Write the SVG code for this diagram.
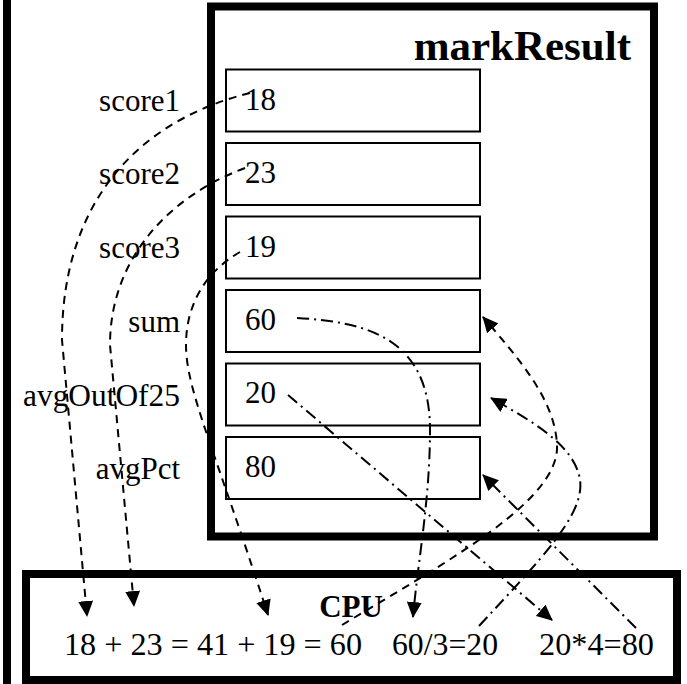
<svg xmlns="http://www.w3.org/2000/svg" width="687" height="684" viewBox="0 0 687 684">
<style>
.frame{fill:none;stroke:#000;stroke-width:8}
.box{fill:#fff;stroke:#000;stroke-width:2}
.t{font-family:"Liberation Serif","Times New Roman",serif;font-size:31px;fill:#000}
.lbl{text-anchor:end}
.b{font-weight:bold}
.dash{fill:none;stroke:#000;stroke-width:2;stroke-dasharray:8 6}
.dd{fill:none;stroke:#000;stroke-width:2;stroke-dasharray:12 5 2 5}
</style>
<defs>
<marker id="ah" viewBox="0 0 16 15" refX="15" refY="7.5" markerWidth="16" markerHeight="15" markerUnits="userSpaceOnUse" orient="auto">
<path d="M0,0 L16,7.5 L0,15 z" fill="#000"/>
</marker>
</defs>
<rect width="687" height="684" fill="#fff"/>
<line x1="7" y1="0" x2="7" y2="684" stroke="#000" stroke-width="8"/>
<g id="markResult">
<rect class="frame" x="211" y="6.5" width="443" height="530"/>
<text class="t b" x="631" y="60" text-anchor="end" style="font-size:43px">markResult</text>
</g>
<g id="score1">
<rect class="box" x="226" y="69.5" width="254" height="62"/>
<text class="t" x="245" y="110">18</text>
<text class="t lbl" x="180" y="111">score1</text>
</g>
<g id="score2">
<rect class="box" x="226" y="143" width="254" height="62"/>
<text class="t" x="245" y="183">23</text>
<text class="t lbl" x="180" y="184">score2</text>
</g>
<g id="score3">
<rect class="box" x="226" y="216.5" width="254" height="62"/>
<text class="t" x="245" y="257">19</text>
<text class="t lbl" x="180" y="258">score3</text>
</g>
<g id="sum">
<rect class="box" x="226" y="290" width="254" height="62"/>
<text class="t" x="245" y="330">60</text>
<text class="t lbl" x="180" y="332">sum</text>
</g>
<g id="avgOutOf25">
<rect class="box" x="226" y="363.5" width="254" height="62"/>
<text class="t" x="245" y="403">20</text>
<text class="t lbl" x="180" y="406" textLength="157" lengthAdjust="spacingAndGlyphs">avgOutOf25</text>
</g>
<g id="avgPct">
<rect class="box" x="226" y="437" width="254" height="62"/>
<text class="t" x="245" y="477">80</text>
<text class="t lbl" x="180" y="479">avgPct</text>
</g>
<g id="CPU">
<rect class="frame" x="26" y="574" width="651" height="106"/>
<text class="t b" x="351" y="617" text-anchor="middle">CPU</text>
<text class="t" x="64" y="655" style="font-size:32px" textLength="298" lengthAdjust="spacingAndGlyphs">18 + 23 = 41 + 19 = 60</text>
<text class="t" x="392" y="655" style="font-size:32px" textLength="106" lengthAdjust="spacingAndGlyphs">60/3=20</text>
<text class="t" x="539" y="655" style="font-size:32px" textLength="115" lengthAdjust="spacingAndGlyphs">20*4=80</text>
</g>
<g id="connectors">
<path class="dash" d="M250,93 C140,120 62,200 62,340 L87,616" marker-end="url(#ah)"/>
<path class="dash" d="M245,168 C165,198 110,262 110,345 L134,606" marker-end="url(#ah)"/>
<path class="dash" d="M240,252 C205,272 186,305 186,345 C186,390 215,450 268,615" marker-end="url(#ah)"/>
<path class="dd" d="M297,318 C370,322 430,340 430,430 C430,500 418,560 413,617" marker-end="url(#ah)"/>
<path class="dd" d="M288,395 L552,620" marker-end="url(#ah)"/>
<path class="dd" d="M636,628 L483,475" marker-end="url(#ah)"/>
<path class="dd" d="M479,626 C540,560 585,515 580,480 C575,445 530,420 491,398" marker-end="url(#ah)"/>
<path class="dash" d="M342,625 C450,560 560,500 557,445 C555,400 520,360 483,317" marker-end="url(#ah)"/>
</g>
</svg>
